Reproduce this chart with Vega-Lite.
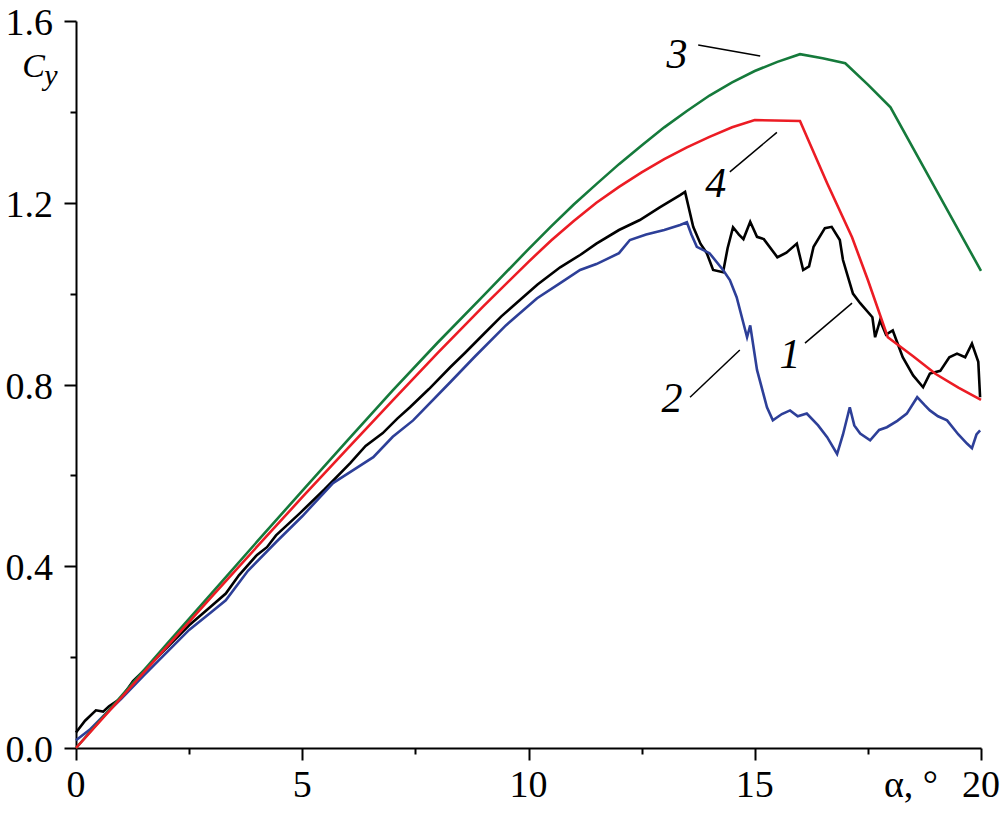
{
 "$schema": "https://vega.github.io/schema/vega-lite/v6.json",
 "width": 905, "height": 727,
 "autosize": {"type": "none"},
 "padding": {"left": 76, "top": 21, "right": 27, "bottom": 67},
 "background": "white",
 "config": {"view": {"stroke": null}, "axis": {"grid": false, "domainColor": "black", "tickColor": "black", "labelColor": "black", "domainWidth": 2, "tickWidth": 2}},
 "resolve": {"axis": {"x": "independent", "y": "independent"}},
 "layer": [
  {
   "data": {"values": [
    {"s":"1","a":0,"cy":0.034},{"s":"1","a":0.2,"cy":0.06},{"s":"1","a":0.44,"cy":0.083},{"s":"1","a":0.6,"cy":0.08},{"s":"1","a":0.73,"cy":0.092},{"s":"1","a":1.0,"cy":0.11},{"s":"1","a":1.26,"cy":0.147},{"s":"1","a":1.6,"cy":0.18},{"s":"1","a":2,"cy":0.22},{"s":"1","a":2.5,"cy":0.27},{"s":"1","a":3,"cy":0.313},{"s":"1","a":3.31,"cy":0.34},{"s":"1","a":3.6,"cy":0.38},{"s":"1","a":4,"cy":0.425},{"s":"1","a":4.22,"cy":0.442},{"s":"1","a":4.42,"cy":0.468},{"s":"1","a":4.95,"cy":0.517},{"s":"1","a":5.5,"cy":0.57},{"s":"1","a":6.06,"cy":0.627},{"s":"1","a":6.4,"cy":0.665},{"s":"1","a":6.78,"cy":0.693},{"s":"1","a":7.1,"cy":0.725},{"s":"1","a":7.38,"cy":0.75},{"s":"1","a":7.8,"cy":0.79},{"s":"1","a":8.27,"cy":0.838},{"s":"1","a":8.6,"cy":0.87},{"s":"1","a":9,"cy":0.91},{"s":"1","a":9.4,"cy":0.95},{"s":"1","a":9.81,"cy":0.986},{"s":"1","a":10.2,"cy":1.02},{"s":"1","a":10.7,"cy":1.058},{"s":"1","a":11.14,"cy":1.085},{"s":"1","a":11.5,"cy":1.11},{"s":"1","a":12,"cy":1.14},{"s":"1","a":12.46,"cy":1.162},{"s":"1","a":12.9,"cy":1.19},{"s":"1","a":13.35,"cy":1.217},{"s":"1","a":13.46,"cy":1.224},{"s":"1","a":13.64,"cy":1.147},{"s":"1","a":13.8,"cy":1.11},{"s":"1","a":13.94,"cy":1.089},{"s":"1","a":14.08,"cy":1.052},{"s":"1","a":14.3,"cy":1.047},{"s":"1","a":14.4,"cy":1.1},{"s":"1","a":14.52,"cy":1.146},{"s":"1","a":14.65,"cy":1.13},{"s":"1","a":14.75,"cy":1.12},{"s":"1","a":14.9,"cy":1.158},{"s":"1","a":15.05,"cy":1.125},{"s":"1","a":15.2,"cy":1.12},{"s":"1","a":15.5,"cy":1.08},{"s":"1","a":15.7,"cy":1.09},{"s":"1","a":15.93,"cy":1.11},{"s":"1","a":16.07,"cy":1.052},{"s":"1","a":16.2,"cy":1.06},{"s":"1","a":16.3,"cy":1.103},{"s":"1","a":16.55,"cy":1.144},{"s":"1","a":16.7,"cy":1.147},{"s":"1","a":16.88,"cy":1.118},{"s":"1","a":16.95,"cy":1.074},{"s":"1","a":17.05,"cy":1.04},{"s":"1","a":17.17,"cy":1.0},{"s":"1","a":17.33,"cy":0.979},{"s":"1","a":17.6,"cy":0.948},{"s":"1","a":17.66,"cy":0.904},{"s":"1","a":17.77,"cy":0.941},{"s":"1","a":17.9,"cy":0.91},{"s":"1","a":18.05,"cy":0.919},{"s":"1","a":18.27,"cy":0.86},{"s":"1","a":18.5,"cy":0.82},{"s":"1","a":18.72,"cy":0.794},{"s":"1","a":18.87,"cy":0.824},{"s":"1","a":19.1,"cy":0.83},{"s":"1","a":19.3,"cy":0.86},{"s":"1","a":19.47,"cy":0.868},{"s":"1","a":19.65,"cy":0.86},{"s":"1","a":19.8,"cy":0.89},{"s":"1","a":19.94,"cy":0.85},{"s":"1","a":19.98,"cy":0.772},
    {"s":"2","a":0,"cy":0.017},{"s":"2","a":0.3,"cy":0.04},{"s":"2","a":0.6,"cy":0.07},{"s":"2","a":1.0,"cy":0.108},{"s":"2","a":1.5,"cy":0.16},{"s":"2","a":2,"cy":0.21},{"s":"2","a":2.5,"cy":0.26},{"s":"2","a":3,"cy":0.30},{"s":"2","a":3.31,"cy":0.325},{"s":"2","a":3.8,"cy":0.39},{"s":"2","a":4.44,"cy":0.455},{"s":"2","a":5,"cy":0.51},{"s":"2","a":5.68,"cy":0.583},{"s":"2","a":6.1,"cy":0.61},{"s":"2","a":6.57,"cy":0.64},{"s":"2","a":7,"cy":0.685},{"s":"2","a":7.45,"cy":0.721},{"s":"2","a":8.27,"cy":0.805},{"s":"2","a":8.8,"cy":0.86},{"s":"2","a":9.5,"cy":0.93},{"s":"2","a":10.19,"cy":0.99},{"s":"2","a":10.7,"cy":1.023},{"s":"2","a":11.14,"cy":1.052},{"s":"2","a":11.5,"cy":1.065},{"s":"2","a":12,"cy":1.089},{"s":"2","a":12.24,"cy":1.118},{"s":"2","a":12.6,"cy":1.13},{"s":"2","a":13,"cy":1.14},{"s":"2","a":13.35,"cy":1.151},{"s":"2","a":13.5,"cy":1.157},{"s":"2","a":13.6,"cy":1.13},{"s":"2","a":13.72,"cy":1.103},{"s":"2","a":14,"cy":1.089},{"s":"2","a":14.3,"cy":1.052},{"s":"2","a":14.45,"cy":1.03},{"s":"2","a":14.6,"cy":0.992},{"s":"2","a":14.83,"cy":0.904},{"s":"2","a":14.9,"cy":0.93},{"s":"2","a":15.05,"cy":0.832},{"s":"2","a":15.27,"cy":0.75},{"s":"2","a":15.4,"cy":0.721},{"s":"2","a":15.6,"cy":0.735},{"s":"2","a":15.78,"cy":0.743},{"s":"2","a":15.95,"cy":0.73},{"s":"2","a":16.15,"cy":0.736},{"s":"2","a":16.4,"cy":0.71},{"s":"2","a":16.6,"cy":0.684},{"s":"2","a":16.82,"cy":0.647},{"s":"2","a":16.95,"cy":0.69},{"s":"2","a":17.1,"cy":0.75},{"s":"2","a":17.2,"cy":0.71},{"s":"2","a":17.33,"cy":0.692},{"s":"2","a":17.55,"cy":0.677},{"s":"2","a":17.75,"cy":0.7},{"s":"2","a":17.92,"cy":0.706},{"s":"2","a":18.15,"cy":0.72},{"s":"2","a":18.36,"cy":0.736},{"s":"2","a":18.59,"cy":0.772},{"s":"2","a":18.75,"cy":0.755},{"s":"2","a":18.87,"cy":0.743},{"s":"2","a":19.05,"cy":0.73},{"s":"2","a":19.25,"cy":0.721},{"s":"2","a":19.5,"cy":0.69},{"s":"2","a":19.69,"cy":0.67},{"s":"2","a":19.8,"cy":0.66},{"s":"2","a":19.9,"cy":0.69},{"s":"2","a":19.98,"cy":0.699},
    {"s":"3","a":0,"cy":0},{"s":"3","a":1,"cy":0.114},{"s":"3","a":2,"cy":0.228},{"s":"3","a":3,"cy":0.341},{"s":"3","a":4,"cy":0.454},{"s":"3","a":5,"cy":0.566},{"s":"3","a":6,"cy":0.677},{"s":"3","a":7,"cy":0.787},{"s":"3","a":8,"cy":0.893},{"s":"3","a":9,"cy":0.995},{"s":"3","a":10,"cy":1.098},{"s":"3","a":10.5,"cy":1.148},{"s":"3","a":11,"cy":1.196},{"s":"3","a":11.5,"cy":1.241},{"s":"3","a":12,"cy":1.285},{"s":"3","a":12.5,"cy":1.326},{"s":"3","a":13,"cy":1.366},{"s":"3","a":13.5,"cy":1.402},{"s":"3","a":14,"cy":1.436},{"s":"3","a":14.5,"cy":1.465},{"s":"3","a":15,"cy":1.49},{"s":"3","a":15.5,"cy":1.51},{"s":"3","a":16,"cy":1.527},{"s":"3","a":16.5,"cy":1.518},{"s":"3","a":17,"cy":1.507},{"s":"3","a":17.5,"cy":1.46},{"s":"3","a":18,"cy":1.41},{"s":"3","a":19,"cy":1.23},{"s":"3","a":20,"cy":1.05},
    {"s":"4","a":0,"cy":0},{"s":"4","a":1,"cy":0.111},{"s":"4","a":2,"cy":0.222},{"s":"4","a":3,"cy":0.333},{"s":"4","a":4,"cy":0.443},{"s":"4","a":5,"cy":0.552},{"s":"4","a":6,"cy":0.659},{"s":"4","a":7,"cy":0.765},{"s":"4","a":8,"cy":0.87},{"s":"4","a":9,"cy":0.972},{"s":"4","a":10,"cy":1.07},{"s":"4","a":10.5,"cy":1.117},{"s":"4","a":11,"cy":1.16},{"s":"4","a":11.5,"cy":1.2},{"s":"4","a":12,"cy":1.235},{"s":"4","a":12.5,"cy":1.267},{"s":"4","a":13,"cy":1.296},{"s":"4","a":13.5,"cy":1.322},{"s":"4","a":14,"cy":1.345},{"s":"4","a":14.5,"cy":1.366},{"s":"4","a":15,"cy":1.382},{"s":"4","a":16,"cy":1.38},{"s":"4","a":16.6,"cy":1.243},{"s":"4","a":17.15,"cy":1.124},{"s":"4","a":17.5,"cy":1.03},{"s":"4","a":17.94,"cy":0.904},{"s":"4","a":18.5,"cy":0.862},{"s":"4","a":19,"cy":0.823},{"s":"4","a":19.5,"cy":0.793},{"s":"4","a":20,"cy":0.766}
   ]},
   "mark": {"type": "line", "strokeWidth": 2.6},
   "encoding": {
    "x": {"field": "a", "type": "quantitative", "scale": {"domain": [0, 20], "nice": false},
          "axis": {"orient": "bottom", "values": [0, 5, 10, 15, 20], "tickSize": 12, "labels": false, "title": null}},
    "y": {"field": "cy", "type": "quantitative", "scale": {"domain": [0, 1.6], "nice": false},
          "axis": {"orient": "left", "values": [0, 0.4, 0.8, 1.2, 1.6], "tickSize": 12, "labels": false, "title": null}},
    "color": {"field": "s", "type": "nominal", "scale": {"domain": ["1", "2", "3", "4"], "range": ["#000000", "#2d3f98", "#157a3b", "#ec1c24"]}, "legend": null}
   }
  },
  {
   "data": {"values": [
    {"a": 13.75, "cy": 1.547, "a2": 15.12, "cy2": 1.523},
    {"a": 14.45, "cy": 1.268, "a2": 15.49, "cy2": 1.355},
    {"a": 16.11, "cy": 0.891, "a2": 17.15, "cy2": 0.979},
    {"a": 13.57, "cy": 0.772, "a2": 14.67, "cy2": 0.876}
   ]},
   "mark": {"type": "rule", "color": "black", "strokeWidth": 1.5},
   "encoding": {
    "x": {"field": "a", "type": "quantitative", "axis": {"orient": "bottom", "values": [2.5, 7.5, 12.5, 17.5], "labels": false, "tickSize": 6, "domain": false, "title": null}},
    "y": {"field": "cy", "type": "quantitative", "axis": {"orient": "left", "values": [0.2, 0.6, 1.0, 1.4], "labels": false, "tickSize": 6, "domain": false, "title": null}},
    "x2": {"field": "a2"},
    "y2": {"field": "cy2"}
   }
  },
  {
   "data": {"values": [
    {"t": "3", "a": 13.28, "cy": 1.525},
    {"t": "4", "a": 14.14, "cy": 1.241},
    {"t": "1", "a": 15.78, "cy": 0.865},
    {"t": "2", "a": 13.17, "cy": 0.768}
   ]},
   "mark": {"type": "text", "font": "Liberation Serif", "fontStyle": "italic", "fontSize": 42, "align": "center", "baseline": "middle", "color": "black"},
   "encoding": {
    "x": {"field": "a", "type": "quantitative", "axis": null},
    "y": {"field": "cy", "type": "quantitative", "axis": null},
    "text": {"field": "t"}
   }
  },
  {
   "data": {"values": [
    {"t": "0", "a": 0, "cy": 0}, {"t": "5", "a": 5, "cy": 0}, {"t": "10", "a": 10, "cy": 0}, {"t": "15", "a": 15, "cy": 0}, {"t": "20", "a": 20, "cy": 0}
   ]},
   "mark": {"type": "text", "font": "Liberation Serif", "fontSize": 38, "align": "center", "baseline": "alphabetic", "dy": 49, "color": "black"},
   "encoding": {
    "x": {"field": "a", "type": "quantitative", "axis": null},
    "y": {"field": "cy", "type": "quantitative", "axis": null},
    "text": {"field": "t"}
   }
  },
  {
   "data": {"values": [
    {"t": "0.0", "a": 0, "cy": 0}, {"t": "0.4", "a": 0, "cy": 0.4}, {"t": "0.8", "a": 0, "cy": 0.8}, {"t": "1.2", "a": 0, "cy": 1.2}, {"t": "1.6", "a": 0, "cy": 1.6}
   ]},
   "mark": {"type": "text", "font": "Liberation Serif", "fontSize": 38, "align": "right", "baseline": "alphabetic", "dx": -23, "dy": 14, "color": "black"},
   "encoding": {
    "x": {"field": "a", "type": "quantitative", "axis": null},
    "y": {"field": "cy", "type": "quantitative", "axis": null},
    "text": {"field": "t"}
   }
  },
  {
   "data": {"values": [{"t": "α, °", "a": 19.05, "cy": 0}]},
   "mark": {"type": "text", "font": "Liberation Serif", "fontSize": 38, "align": "right", "baseline": "alphabetic", "dy": 49, "color": "black"},
   "encoding": {
    "x": {"field": "a", "type": "quantitative", "axis": null},
    "y": {"field": "cy", "type": "quantitative", "axis": null},
    "text": {"field": "t"}
   }
  },
  {
   "data": {"values": [{"t": "C", "a": -1.19, "cy": 1.477}]},
   "mark": {"type": "text", "font": "Liberation Serif", "fontStyle": "italic", "fontSize": 34, "align": "left", "baseline": "alphabetic", "color": "black"},
   "encoding": {
    "x": {"field": "a", "type": "quantitative", "axis": null},
    "y": {"field": "cy", "type": "quantitative", "axis": null},
    "text": {"field": "t"}
   }
  },
  {
   "data": {"values": [{"t": "y", "a": -0.7, "cy": 1.459}]},
   "mark": {"type": "text", "font": "Liberation Serif", "fontStyle": "italic", "fontSize": 30, "align": "left", "baseline": "alphabetic", "color": "black"},
   "encoding": {
    "x": {"field": "a", "type": "quantitative", "axis": null},
    "y": {"field": "cy", "type": "quantitative", "axis": null},
    "text": {"field": "t"}
   }
  }
 ]
}
